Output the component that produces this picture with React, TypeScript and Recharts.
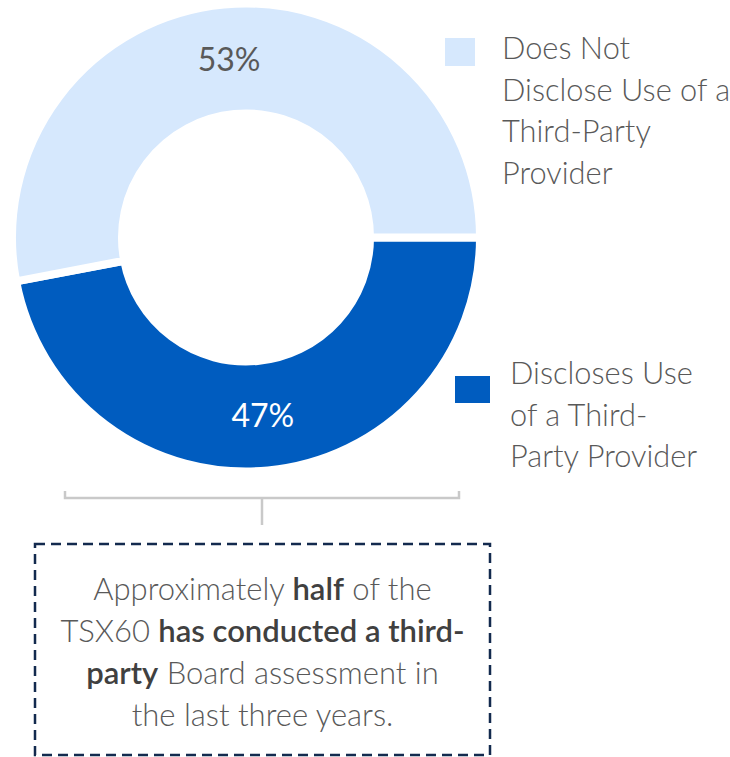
import { PieChart, Pie, Cell } from "recharts";

// slices, drawn clockwise from 3 o'clock
const categories = ["Discloses Use of a Third-Party Provider", "Does Not Disclose Use of a Third-Party Provider"];
const shares = [47, 53];
const colors = ["#005CBF", "#D6E8FD"];
const labelColors = ["#FFFFFF", "#595959"];

// legend text, wrapped as in the original
const legendLines = [
  ["Discloses Use", "of a Third-", "Party Provider"],
  ["Does Not", "Disclose Use of a", "Third-Party", "Provider"],
];

const data = categories.map((name, i) => ({ name, value: shares[i] }));

const FONT = "Lato, 'Open Sans', sans-serif";
const RAD = Math.PI / 180;

const renderLabel = (props: any) => {
  const { cx, cy, midAngle, innerRadius, outerRadius, index } = props;
  const r = (innerRadius + outerRadius) / 2;
  const x = cx + r * Math.cos(-midAngle * RAD);
  const y = cy + r * Math.sin(-midAngle * RAD);
  return (
    <text
      x={x}
      y={y}
      dy="0.36em"
      textAnchor="middle"
      fill={labelColors[index]}
      style={{ fontFamily: FONT, fontSize: 32, fontWeight: 400 }}
    >
      {`${shares[index]}%`}
    </text>
  );
};

const legendBoxes = [
  { sq: { left: 455, top: 376, width: 35, height: 27 }, text: { left: 510, top: 352 } },
  { sq: { left: 445, top: 38, width: 30, height: 28 }, text: { left: 502, top: 27 } },
];

export default function App() {
  return (
    <div style={{ position: "absolute", left: 0, top: 0, width: 730, height: 757, background: "#fff", overflow: "hidden", fontFamily: FONT, fontWeight: 300 }}>
      <PieChart width={730} height={480} margin={{ top: 0, right: 0, bottom: 0, left: 0 }}>
        <Pie
          data={data}
          dataKey="value"
          nameKey="name"
          cx={246}
          cy={237.5}
          innerRadius={124}
          outerRadius={234}
          startAngle={0}
          endAngle={-360}
          stroke="#FFFFFF"
          strokeWidth={8}
          label={renderLabel}
          labelLine={false}
          isAnimationActive={false}
        >
          {data.map((d, i) => (
            <Cell key={d.name} fill={colors[i]} />
          ))}
        </Pie>
      </PieChart>

      {legendBoxes.map((b, i) => (
        <div key={i}>
          <div style={{ position: "absolute", ...b.sq, background: colors[i] }} />
          <div style={{ position: "absolute", left: b.text.left, top: b.text.top, fontSize: 30.8, lineHeight: "41.5px", color: "#595959", whiteSpace: "nowrap" }}>
            {legendLines[i].map((l) => (
              <div key={l}>{l}</div>
            ))}
          </div>
        </div>
      ))}

      <svg width={730} height={757} style={{ position: "absolute", left: 0, top: 0, pointerEvents: "none" }}>
        <polyline points="65,491 65,498 459,498 459,491" fill="none" stroke="#C9C9C9" strokeWidth={2.5} />
        <line x1={262} y1={498} x2={262} y2={525} stroke="#C9C9C9" strokeWidth={2.5} />
        <rect x={35} y={544} width={455} height={211} fill="none" stroke="#132A4E" strokeWidth={2.5} strokeDasharray="10 6" />
      </svg>

      <div
        style={{
          position: "absolute",
          left: 35,
          top: 567,
          width: 455,
          textAlign: "center",
          fontSize: 31,
          lineHeight: "42px",
          color: "#595959",
        }}
      >
        <div>
          Approximately <b style={{ color: "#404040", fontWeight: 600 }}>half</b> of the
        </div>
        <div>
          TSX60 <b style={{ color: "#404040", fontWeight: 600 }}>has conducted a third-</b>
        </div>
        <div>
          <b style={{ color: "#404040", fontWeight: 600 }}>party</b> Board assessment in
        </div>
        <div>the last three years.</div>
      </div>
    </div>
  );
}
